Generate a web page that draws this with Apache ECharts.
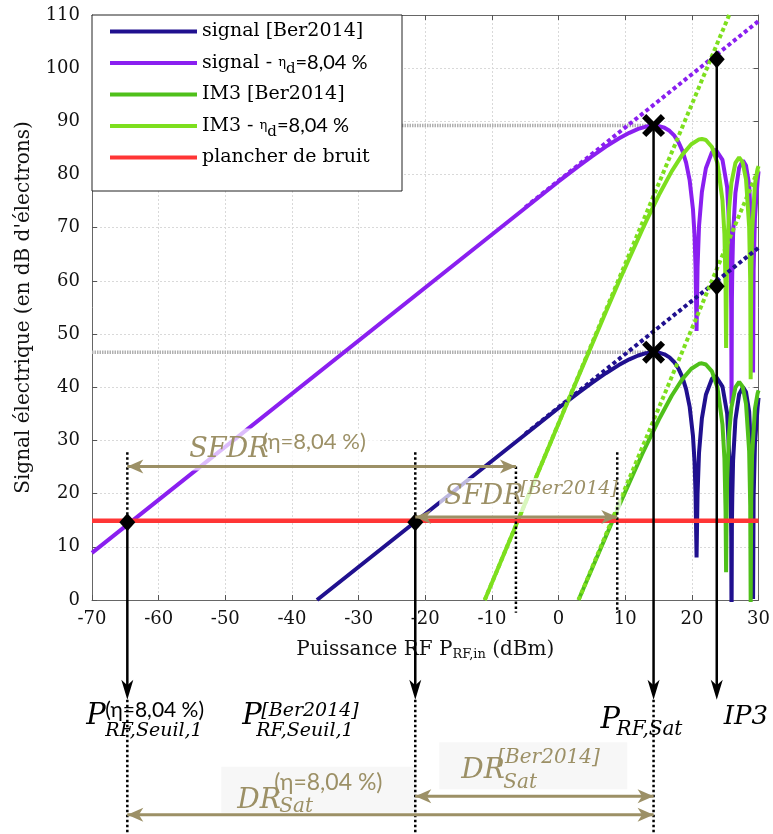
<!DOCTYPE html>
<html><head><meta charset="utf-8">
<script src="https://cdn.jsdelivr.net/npm/echarts@6.0.0/dist/echarts.min.js"></script>
<style>html,body{margin:0;padding:0;background:#fff;}#chart{width:773px;height:834px;}</style>
</head><body><div id="chart"></div>
<script>
// ---- axes ----
const xAxisRange = [-70, 30]; const xStep = 10;
const yAxisRange = [0, 110]; const yStep = 10;
const xTitle = ['Puissance RF P', 'RF,in', ' (dBm)'];
const yTitle = "Signal électrique (en dB d'électrons)";
const seriesNames = ['signal [Ber2014]', 'signal - η_d=8,04 %', 'IM3 [Ber2014]', 'IM3 - η_d=8,04 %', 'plancher de bruit'];

// ---- series values [x (dBm), y (dB)] ----
const signalBer = [[-36.25,0],[0,36.1],[3.01,38.99],[5,40.81],[7.09,42.64],[9.03,44.17],[10.62,45.25],[11.95,45.98],[13.11,46.42],[14.33,46.6],[15.05,46.52],[15.88,46.2],[16.64,45.62],[17.33,44.76],[17.97,43.55],[18.57,41.91],[19.13,39.64],[19.66,36.37],[20.16,30.9],[20.4,25.92],[20.55,19.8],[20.63,13.44],[20.7,8.0],[20.85,20.06],[21.07,27.69],[21.5,34.14],[22.1,38.58],[23.01,41.61],[23.57,42.08],[23.84,41.97],[24.59,40.14],[25.29,35.04],[25.81,22.13],[25.9,12.0],[25.95,-5.7],[26.0,13.7],[26.06,19.33],[26.18,26.14],[26.53,33.92],[27.09,38.71],[27.66,40.03],[28.12,39.09],[28.59,35.45],[29.03,24.07],[29.1,18.34],[29.18,0.2],[29.26,19.3],[29.46,29.25],[29.86,36.25],[30,38.0]];
const signalEta = [[-70,8.85],[0,78.7],[3.01,81.59],[5,83.41],[7.09,85.24],[9.03,86.77],[10.62,87.85],[11.95,88.58],[13.11,89.02],[14.33,89.2],[15.05,89.12],[15.88,88.8],[16.64,88.22],[17.33,87.36],[17.97,86.15],[18.57,84.51],[19.13,82.24],[19.66,78.97],[20.16,73.5],[20.4,68.52],[20.55,62.4],[20.63,56.04],[20.7,50.6],[20.85,62.66],[21.07,70.29],[21.5,76.74],[22.1,81.18],[23.01,84.21],[23.57,84.68],[23.84,84.57],[24.59,82.74],[25.29,77.64],[25.81,64.73],[25.9,54.6],[25.95,36.9],[26.0,56.3],[26.06,61.93],[26.18,68.74],[26.53,76.52],[27.09,81.31],[27.66,82.63],[28.12,81.69],[28.59,78.05],[29.03,66.67],[29.1,60.94],[29.18,42.8],[29.26,61.9],[29.46,71.85],[29.86,78.85],[30,80.6]];
const im3Ber = [[2.99,0],[7.09,11.94],[9.03,17.59],[10.62,22.05],[12.55,27.45],[13.11,28.95],[15.05,33.94],[16.99,38.45],[18.57,41.54],[19.91,43.49],[21.07,44.41],[21.5,44.5],[22.1,44.29],[23.01,42.98],[23.84,39.91],[24.59,32.94],[24.88,26.63],[25.05,16.84],[25.13,5.2],[25.2,15.26],[25.29,22.75],[25.6,31.65],[25.93,36.23],[26.53,39.99],[27.09,41.02],[27.62,40.1],[28.12,36.89],[28.59,28.0],[28.75,17.8],[28.82,-0.7],[28.9,18.8],[29.03,27.07],[29.46,35.98],[29.86,38.87],[30,39.4]];
const im3Eta = [[-11.08,0],[0,33.2],[3.01,42.12],[7.09,54.14],[9.03,59.79],[10.62,64.25],[12.55,69.65],[13.11,71.15],[15.05,76.14],[16.99,80.65],[18.57,83.74],[19.91,85.69],[21.07,86.61],[21.5,86.7],[22.1,86.49],[23.01,85.18],[23.84,82.11],[24.59,75.14],[24.88,68.83],[25.05,59.04],[25.13,47.4],[25.2,57.46],[25.29,64.95],[25.6,73.85],[25.93,78.43],[26.53,82.19],[27.09,83.22],[27.62,82.3],[28.12,79.09],[28.59,70.2],[28.75,60.0],[28.82,41.5],[28.9,61.0],[29.03,69.27],[29.46,78.18],[29.86,81.07],[30,81.6]];
const asymSignalBer = [[-5,31.25],[30,66.25]];
const asymSignalEta = [[-5,73.85],[30,108.85]];
const asymIm3Ber = [[3,0.03],[30,81.03]];
const asymIm3Eta = [[-11.08,0],[25.59,110]];
const noiseFloor = [[-70,14.9],[30,14.9]];
const satLevelEta = [[-70,89.2],[14.25,89.2]];
const satLevelBer = [[-70,46.6],[14.25,46.6]];
const thresholdPoints = [[-64.7,14.6],[-21.5,14.6]];
const ip3Points = [[23.73,101.7],[23.73,59.0]];
const satPoints = [[14.25,89.2],[14.25,46.6]];

// ---- annotation positions (data units) ----
const xThrEta = -64.7, xThrBer = -21.5, xSat = 14.25, xIP3 = 23.73;
const xSfdrEtaEnd = -6.4, xSfdrBerEnd = 8.8;
const ySfdrEta = 25.1, ySfdrBer = 15.6, yDrBer = -36.9, yDrEta = -40.4;
const yArrowTip = -18.75, yDotTop = 27.8, yBelowAxis = -2.4, yPageBottom = -45;

const C = {navy:'#20108f', purple:'#8a1ff0', green:'#4fc01a', lime:'#7ddf1e', red:'#ff3535', gray:'#b0b0b0', khaki:'#9c9066'};
const SERIF = '"DejaVu Serif", serif';
const SANS = 'Lato, "Noto Sans", sans-serif';

const chart = echarts.init(document.getElementById('chart'), null, {renderer:'canvas'});

function lineS(name, data, color, width, type, z){
  return {name, type:'line', data, symbol:'none', showSymbol:false, smooth:false, clip:true,
    lineStyle:{color, width, type: type || 'solid'}, itemStyle:{color}, z: z || 2, silent:true, animation:false};
}
function fmtLegend(name){
  if (name.indexOf('η_d') >= 0){ const p = name.split('η_d'); return '{t|' + p[0] + '}{g|η}{d|d}{n|' + p[1] + '}'; }
  return '{t|' + name + '}';
}
const axisCommon = {
  type:'value', axisLine:{show:true, onZero:false, lineStyle:{color:'#666', width:1}},
  axisTick:{show:true, inside:true, length:5, lineStyle:{color:'#555'}},
  splitLine:{show:false}
};
const option = {
  animation:false,
  backgroundColor:'#fff',
  grid:{left:92, right:14, top:15, bottom:234, containLabel:false},
  xAxis:[
    Object.assign({}, axisCommon, {min:xAxisRange[0], max:xAxisRange[1], interval:xStep, position:'bottom',
      axisLabel:{color:'#111', fontFamily:SERIF, fontSize:18, margin:10},
      splitLine:{show:true, lineStyle:{color:'#d9d9d9', type:[2,2], width:1}},
      name:'{a|' + xTitle[0] + '}{s|' + xTitle[1] + '}{a|' + xTitle[2] + '}', nameLocation:'middle', nameGap:38,
      nameTextStyle:{rich:{a:{fontFamily:SERIF, fontSize:20, lineHeight:24, color:'#111'}, s:{fontFamily:SERIF, fontSize:13, lineHeight:14, padding:[10,0,0,0], color:'#111'}}}}),
    Object.assign({}, axisCommon, {min:xAxisRange[0], max:xAxisRange[1], interval:xStep, position:'top', axisLabel:{show:false}})
  ],
  yAxis:[
    Object.assign({}, axisCommon, {min:yAxisRange[0], max:yAxisRange[1], interval:yStep, position:'left',
      axisLabel:{color:'#111', fontFamily:SERIF, fontSize:18, margin:12},
      splitLine:{show:true, lineStyle:{color:'#d9d9d9', type:[2,2], width:1}},
      name:yTitle, nameLocation:'middle', nameGap:58, nameRotate:90,
      nameTextStyle:{fontFamily:SERIF, fontSize:20, color:'#111'}}),
    Object.assign({}, axisCommon, {min:yAxisRange[0], max:yAxisRange[1], interval:yStep, position:'right', axisLabel:{show:false}})
  ],
  legend:{show:true, data:seriesNames, orient:'vertical', left:110, top:22, padding:0, itemGap:8.5,
    itemWidth:87, itemHeight:4, icon:'rect', selectedMode:false, formatter:fmtLegend, z:6,
    textStyle:{rich:{
      t:{fontFamily:SERIF, fontSize:19, lineHeight:26, color:'#000'},
      g:{fontFamily:SERIF, fontSize:13, lineHeight:26, color:'#000'},
      d:{fontFamily:SERIF, fontSize:15, lineHeight:14, padding:[12,0,0,0], color:'#000'},
      n:{fontFamily:SANS, fontSize:20, lineHeight:26, color:'#000'}}}},
  series:[
    lineS('satEta', satLevelEta, C.gray, 3.5, [1.5,1]),
    lineS('satBer', satLevelBer, C.gray, 3.5, [1.5,1]),
    lineS(seriesNames[0], signalBer, C.navy, 4),
    lineS(seriesNames[1], signalEta, C.purple, 4),
    lineS(seriesNames[2], im3Ber, C.green, 4),
    lineS(seriesNames[3], im3Eta, C.lime, 4),
    lineS('asSB', asymSignalBer, C.navy, 4, [4,3]),
    lineS('asSE', asymSignalEta, C.purple, 4, [4,3]),
    lineS('asIB', asymIm3Ber, C.lime, 4, [4,3]),
    lineS('asIE', asymIm3Eta, C.lime, 4, [4,3]),
    lineS(seriesNames[4], noiseFloor, C.red, 4.5),
    {type:'scatter', data:thresholdPoints.concat(ip3Points), symbol:'diamond', symbolSize:[16,18], itemStyle:{color:'#000', opacity:1}, z:8, silent:true},
    {type:'scatter', data:satPoints, symbol:'path://M4,0 L11,7 L18,0 L22,4 L15,11 L22,18 L18,22 L11,15 L4,22 L0,18 L7,11 L0,4 Z', symbolSize:23, itemStyle:{color:'#000', opacity:1}, z:8, silent:true}
  ]
};
chart.setOption(option);

function px(x, y){ return chart.convertToPixel({xAxisIndex:0, yAxisIndex:0}, [x, y]); }
function seg(a, b, style, z){ return {type:'line', shape:{x1:a[0], y1:a[1], x2:b[0], y2:b[1]}, style:Object.assign({fill:null}, style), z:z || 10, silent:true}; }
function head(tip, from, len, hw, color, z){
  const dx = tip[0]-from[0], dy = tip[1]-from[1], L = Math.hypot(dx, dy), ux = dx/L, uy = dy/L, nx = -uy, ny = ux;
  const bx = tip[0]-ux*len, by = tip[1]-uy*len, cx = tip[0]-ux*len*0.72, cy = tip[1]-uy*len*0.72;
  return {type:'polygon', shape:{points:[[tip[0],tip[1]],[bx+nx*hw,by+ny*hw],[cx,cy],[bx-nx*hw,by-ny*hw]]}, style:{fill:color}, z:z || 10, silent:true};
}
function txt(anchor, dx, dy, text, font, color){
  return {type:'text', x:anchor[0]+dx, y:anchor[1]+dy, style:{text, font, fill:color, align:'left', verticalAlign:'middle', textAlign:'left', textVerticalAlign:'middle'}, z:12, silent:true};
}
function box(anchor, dx1, dy1, dx2, dy2, fill){
  return {type:'rect', shape:{x:anchor[0]+dx1, y:anchor[1]+dy1, width:dx2-dx1, height:dy2-dy1}, style:{fill}, z:4, silent:true};
}

function buildGraphics(){
  const g = [];
  const black = '#000';
  const solid = {stroke:black, lineWidth:2.5};
  const dotted = {stroke:black, lineWidth:2.5, lineDash:[2.5,2.5]};
  // legend frame
  const tl = px(xAxisRange[0], yAxisRange[1]);
  g.push({type:'rect', shape:{x:tl[0], y:tl[1], width:310, height:176}, style:{fill:'#fff', stroke:'#222', lineWidth:1}, z:3, silent:true});
  // label backgrounds
  const aSE = px(xThrEta, ySfdrEta), aSB = px(xThrBer, ySfdrBer), aDB = px(xThrBer, yDrBer), aDE = px(xThrEta, yDrEta);
  g.push(box(aSE, 58, -38, 253, 4, 'rgba(255,255,255,0.7)'));
  g.push(box(aSB, 24, -39, 206, -5, 'rgba(255,255,255,0.7)'));
  g.push(box(aDB, 24, -54, 212, -7, '#f7f7f7'));
  g.push(box(aDE, 94, -48, 289, -2, '#f7f7f7'));
  // dotted verticals
  [xThrEta, xThrBer].forEach(x => {
    g.push(seg(px(x, yDotTop), px(x, thresholdPoints[0][1]), dotted));
    g.push(seg(px(x, yArrowTip), px(x, yPageBottom), dotted));
  });
  g.push(seg(px(xSfdrEtaEnd, ySfdrEta), px(xSfdrEtaEnd, yBelowAxis), dotted));
  g.push(seg(px(xSfdrBerEnd, yDotTop), px(xSfdrBerEnd, yBelowAxis), dotted));
  g.push(seg(px(xSat, yArrowTip), px(xSat, yPageBottom), dotted));
  // solid downward arrows
  [[xThrEta, thresholdPoints[0][1]], [xThrBer, thresholdPoints[1][1]], [xSat, satPoints[0][1]], [xIP3, ip3Points[0][1]]].forEach(p => {
    const a = px(p[0], p[1]), b = px(p[0], yArrowTip);
    g.push(seg(a, [b[0], b[1]-8], solid));
    g.push(head(b, a, 20, 6, black));
  });
  // khaki double arrows
  function dbl(x1, x2, y){
    const a = px(x1, y), b = px(x2, y);
    g.push(seg(a, b, {stroke:C.khaki, lineWidth:3}));
    g.push(head(a, b, 16, 7, C.khaki)); g.push(head(b, a, 16, 7, C.khaki));
  }
  dbl(xThrEta, xSfdrEtaEnd, ySfdrEta);
  dbl(xThrBer, xSfdrBerEnd, ySfdrBer);
  dbl(xThrBer, xSat, yDrBer);
  dbl(xThrEta, xSat, yDrEta);
  // texts
  const big = 'italic 29px ' + SERIF, mid = 'italic 19px ' + SERIF, sfdr = 'italic 27px ' + SERIF;
  const supSans = '21px ' + SANS;
  const aPE = px(xThrEta, yArrowTip), aPB = px(xThrBer, yArrowTip), aPS = px(xSat, yArrowTip), aIP = px(xIP3, yArrowTip);
  g.push(txt(aPE, -41, 17, 'P', big, black));
  g.push(txt(aPE, -22, 11, '(η=8,04 %)', supSans, black));
  g.push(txt(aPE, -22, 31, 'RF,Seuil,1', mid, black));
  g.push(txt(aPB, -173, 17, 'P', big, black));
  g.push(txt(aPB, -154, 11, '[Ber2014]', mid, black));
  g.push(txt(aPB, -159, 31, 'RF,Seuil,1', mid, black));
  g.push(txt(aPS, -53, 21, 'P', big, black));
  g.push(txt(aPS, -37, 30, 'RF,Sat', 'italic 20px ' + SERIF, black));
  g.push(txt(aIP, 7, 18, 'IP3', 'italic 26px ' + SERIF, black));
  g.push(txt(aSE, 62, -17, 'SFDR', sfdr, C.khaki));
  g.push(txt(aSE, 135, -25, '(η=8,04 %)', '22px ' + SANS, C.khaki));
  g.push(txt(aSB, 29, -20, 'SFDR', sfdr, C.khaki));
  g.push(txt(aSB, 105, -28, '[Ber2014]', mid, C.khaki));
  g.push(txt(aDB, 46, -26, 'DR', 'italic 28px ' + SERIF, C.khaki));
  g.push(txt(aDB, 82, -38, '[Ber2014]', 'italic 20px ' + SERIF, C.khaki));
  g.push(txt(aDB, 88, -13, 'Sat', 'italic 20px ' + SERIF, C.khaki));
  g.push(txt(aDE, 110, -14, 'DR', 'italic 28px ' + SERIF, C.khaki));
  g.push(txt(aDE, 147, -32, '(η=8,04 %)', '23px ' + SANS, C.khaki));
  g.push(txt(aDE, 152, -8, 'Sat', 'italic 20px ' + SERIF, C.khaki));
  return g;
}
chart.setOption({graphic:{elements:buildGraphics()}});
</script>
</body></html>
